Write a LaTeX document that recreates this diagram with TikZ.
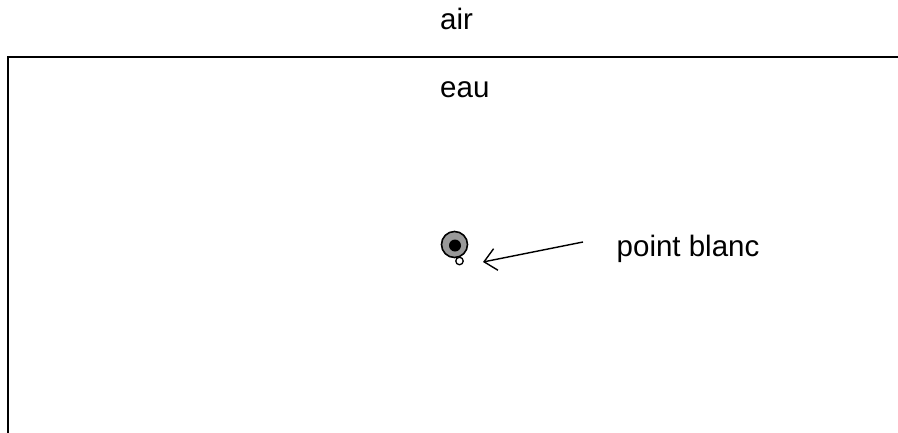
\documentclass[tikz,border=0pt]{standalone}
\usepackage{fontspec}
\setmainfont{Liberation Sans}
\usetikzlibrary{arrows.meta}
\begin{document}
\begin{tikzpicture}[x=1pt,y=-1pt,
  lbl/.style={anchor=base west,inner sep=0pt,font=\fontsize{29.5}{35}\selectfont},
  edge/.style={line width=1.6pt}]
\clip (0,0) rectangle (898,432);
\fill[white] (0,0) rectangle (898,432);
\draw[edge] (8,460) -- (8,57) -- (920,57);
\node[lbl] (air) at (440,29) {air};
\node[lbl] (eau) at (440,97) {eau};
\node[lbl] (pb) at (616.5,256) {point blanc};
\node[circle,draw,fill=white,line width=1.3pt,minimum size=7.5pt,inner sep=0pt] (drop) at (459.5,261) {};
\node[circle,draw,fill={rgb,255:red,153;green,153;blue,153},line width=1.6pt,minimum size=26pt,inner sep=0pt] (bulle) at (454.5,244.5) {};
\node[circle,fill=black,minimum size=12pt,inner sep=0pt] (core) at (455,245.5) {};
\coordinate (a0) at (583,242);
\coordinate (a1) at (483,262);
\draw[line width=1.4pt,-{Straight Barb[length=12pt,width=22pt]}] (a0) -- (a1);
\end{tikzpicture}
\end{document}
